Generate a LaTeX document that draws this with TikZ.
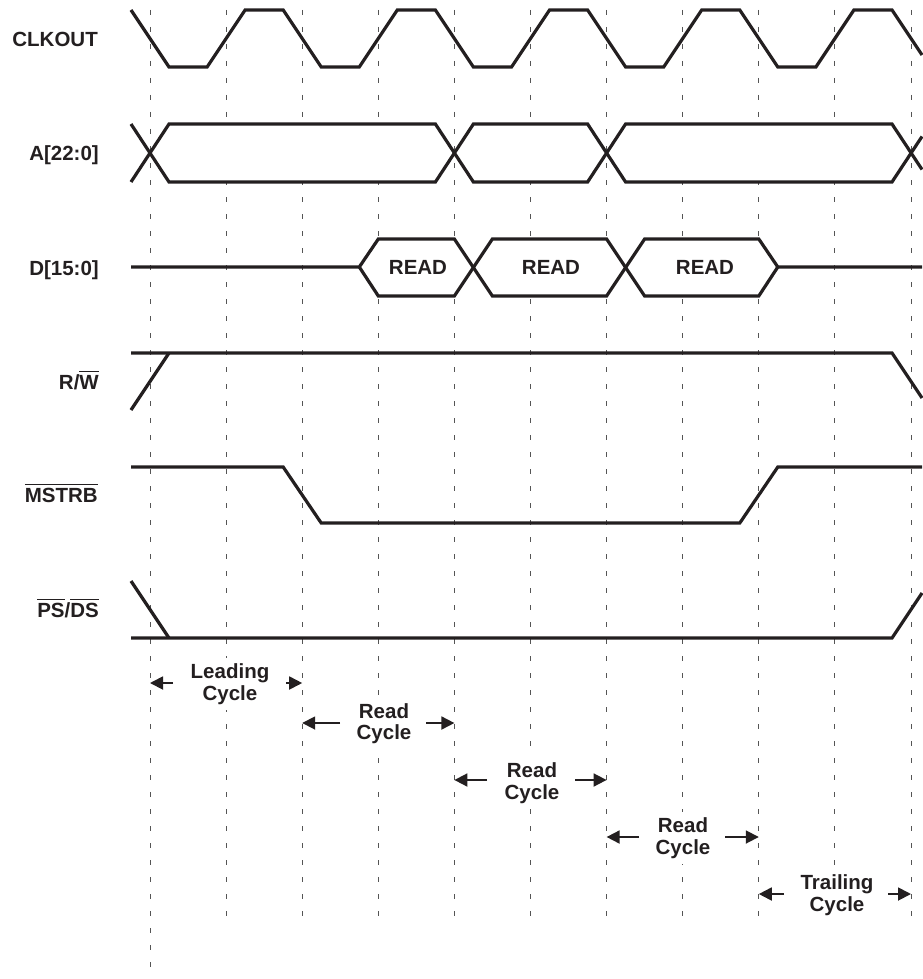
\documentclass[tikz,border=0pt]{standalone}
\usepackage{fontspec}
\setmainfont{Liberation Sans}
\usetikzlibrary{arrows.meta}
\definecolor{sigc}{HTML}{231F20}
\definecolor{gridc}{HTML}{555555}
\newcommand{\ovl}[1]{\leavevmode\vbox{\hrule height 1.3pt\kern 2.6pt\hbox{#1}}}
\begin{document}
\begin{tikzpicture}[x=1pt,y=-1pt,
  sig/.style={line width=3.2pt, line join=miter, line cap=butt, color=sigc},
  gridline/.style={line width=1pt, color=gridc, dash pattern=on 5pt off 12pt},
  busfill/.style={fill=white, draw=none},
  lbl/.style={font=\fontsize{20.5}{22}\selectfont\bfseries, text=sigc, inner sep=0pt},
  cyc/.style={font=\fontsize{20.5}{21.5}\selectfont\bfseries, text=sigc, align=center,
              fill=white, inner xsep=2pt, inner ysep=6pt},
  dim/.style={line width=1.8pt, color=sigc, -{Triangle[length=13pt,width=13pt]}}]
\useasboundingbox (0,0) rectangle (922,979);
% grid
\foreach \i in {0,...,10}{
  \pgfmathsetmacro{\gx}{150+76.1*\i}
  \coordinate (gt\i) at (\gx,10);
  \coordinate (gb\i) at (\gx,920);
}
\coordinate (gb0) at (150,975);
\foreach \i in {0,...,10}{ \draw[gridline] (gt\i) -- (gb\i); }
% CLKOUT
\draw[sig] (131,10)--(169,67)--(207.1,67)--(245.1,10)--(283.2,10)--(321.2,67)--(359.3,67)--(397.3,10)--(435.4,10)--(473.4,67)--(511.5,67)--(549.5,10)--(587.6,10)--(625.6,67)--(663.7,67)--(701.7,10)--(739.8,10)--(777.8,67)--(815.9,67)--(853.9,10)--(892,10)--(922,55);
% A bus
\fill[busfill] (150,153)--(169,124)--(435.4,124)--(454.4,153)--(435.4,182)--(169,182)--cycle;
\fill[busfill] (454.4,153)--(473.4,124)--(587.6,124)--(606.6,153)--(587.6,182)--(473.4,182)--cycle;
\fill[busfill] (606.6,153)--(625.6,124)--(892,124)--(911,153)--(892,182)--(625.6,182)--cycle;
\draw[sig] (131,182)--(169,124)--(435.4,124)--(473.4,182)--(587.6,182)--(625.6,124)--(892,124)--(922,169.5);
\draw[sig] (131,124)--(169,182)--(435.4,182)--(473.4,124)--(587.6,124)--(625.6,182)--(892,182)--(922,136.5);
% D bus
\fill[busfill] (359.3,267)--(378.3,239)--(454.4,239)--(473.4,267)--(454.4,296)--(378.3,296)--cycle;
\fill[busfill] (473.4,267)--(492.4,239)--(606.6,239)--(625.6,267)--(606.6,296)--(492.4,296)--cycle;
\fill[busfill] (625.6,267)--(644.6,239)--(758.8,239)--(777.8,267)--(758.8,296)--(644.6,296)--cycle;
\draw[sig] (131,267)--(359.3,267)--(378.3,239)--(454.4,239)--(492.4,296)--(606.6,296)--(644.6,239)--(758.8,239)--(777.8,267)--(922,267);
\draw[sig] (359.3,267)--(378.3,296)--(454.4,296)--(492.4,239)--(606.6,239)--(644.6,296)--(758.8,296)--(777.8,267);
\node[lbl] (rd1) at (418,267) {READ};
\node[lbl] (rd2) at (551,267) {READ};
\node[lbl] (rd3) at (705,267) {READ};
% R/W
\draw[sig] (131,353)--(892,353)--(922,398);
\draw[sig] (131,410)--(169,353);
% MSTRB
\draw[sig] (131,467)--(283.2,467)--(321.2,523)--(739.8,523)--(777.8,467)--(922,467);
% PS/DS
\draw[sig] (131,581)--(169,638);
\draw[sig] (131,638)--(892,638)--(922,593);
% signal labels
\node[lbl, anchor=base east] (lclk) at (98,47) {CLKOUT};
\node[lbl, anchor=base east] (la) at (99,160) {A[22:0]};
\node[lbl, anchor=base east] (ld) at (99,275) {D[15:0]};
\node[lbl, anchor=base east] (lrw) at (99,389) {R/\ovl{W}};
\node[lbl, anchor=base east] (lms) at (98,502) {\ovl{MSTRB}};
\node[lbl, anchor=base east] (lps) at (99,617) {\ovl{PS}/\ovl{DS}};
% cycle labels
\node[cyc] (c1) at (230,684) {Leading\\Cycle};
\node[cyc] (c2) at (384,723.5) {Read\\Cycle};
\node[cyc] (c3) at (532,783) {Read\\Cycle};
\node[cyc] (c4) at (683,838) {Read\\Cycle};
\node[cyc] (c5) at (837,895) {Trailing\\Cycle};
% arrows
\coordinate (a1l) at (173,683); \coordinate (t1l) at (150,683);
\coordinate (a1r) at (286,683); \coordinate (t1r) at (302.2,683);
\coordinate (a2l) at (340,723); \coordinate (t2l) at (302.2,723);
\coordinate (a2r) at (426,723); \coordinate (t2r) at (454.4,723);
\coordinate (a3l) at (487,780); \coordinate (t3l) at (454.4,780);
\coordinate (a3r) at (575,780); \coordinate (t3r) at (606.6,780);
\coordinate (a4l) at (639,837); \coordinate (t4l) at (606.6,837);
\coordinate (a4r) at (725,837); \coordinate (t4r) at (758.8,837);
\coordinate (a5l) at (784,894); \coordinate (t5l) at (758.8,894);
\coordinate (a5r) at (888,894); \coordinate (t5r) at (911,894);
\foreach \k in {1,...,5}{
  \draw[dim] (a\k l) -- (t\k l);
  \draw[dim] (a\k r) -- (t\k r);
}
\end{tikzpicture}
\end{document}
